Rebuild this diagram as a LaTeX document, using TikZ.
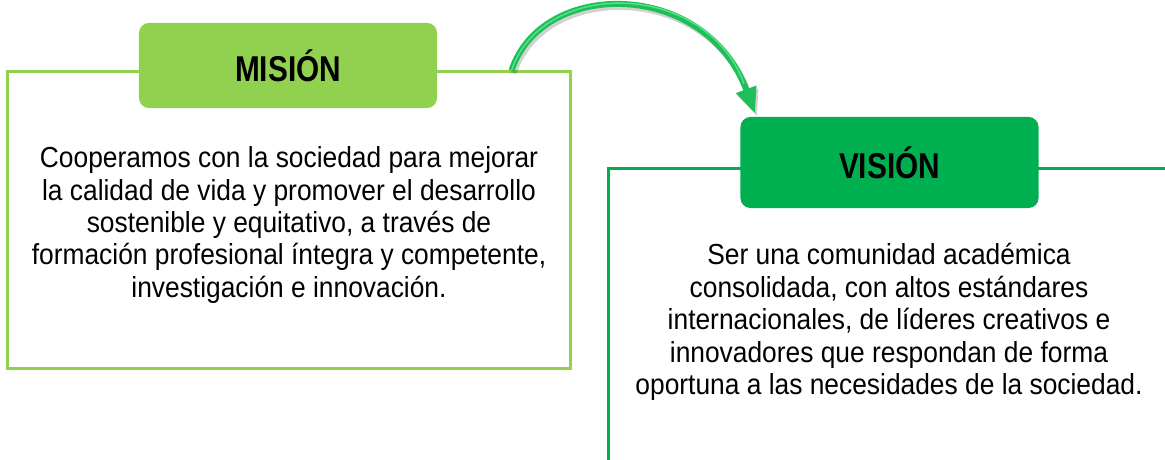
\documentclass[tikz,border=0pt]{standalone}
\usepackage{fontspec}
\setmainfont{Liberation Sans}[FakeStretch=0.91]
\newfontfamily\titlefont{Liberation Sans}[FakeStretch=0.83]
\usetikzlibrary{arrows.meta,positioning}
\definecolor{misiongreen}{HTML}{92D050}
\definecolor{visiongreen}{HTML}{00B050}
\definecolor{arrowgreen}{HTML}{1CBF58}
\definecolor{arrowlight}{HTML}{5BE08A}
\tikzset{
  frameline/.style={draw=#1, line width=0.075cm, inner sep=0pt},
  titlebox/.style={fill=#1, rounded corners=0.25cm, minimum width=7.45cm,
    text=black, font=\titlefont\bfseries\fontsize{25.5}{29}\selectfont},
  bodytext/.style={align=center, inner sep=0pt,
    font=\fontsize{20.6}{23.1}\selectfont},
  flowarrow/.style={-{Triangle[width=0.5cm,length=0.65cm]}, line width=0.15cm},
}
\begin{document}
\begin{tikzpicture}[x=0.025cm, y=-0.025cm]
  \useasboundingbox (0,0) rectangle (1165,460);
  \clip (0,0) rectangle (1165,460);

  % Drawing box MISION
  \node[frameline=misiongreen, minimum width=14.05cm, minimum height=7.4cm] (misionbox) at (289,220) {};
  \node[bodytext] (misiontext) at (289,225) {Cooperamos con la sociedad para mejorar\\
    la calidad de vida y promover el desarrollo\\
    sostenible y equitativo, a través de\\
    formación profesional íntegra y competente,\\
    investigación e innovación.};

  % Drawing box VISION (open to the right and below)
  \node[frameline=visiongreen, minimum width=15cm, minimum height=8cm, anchor=north west] (visionbox) at (607,167) {};
  \node[bodytext] (visiontext) at (889,322) {Ser una comunidad académica\\
    consolidada, con altos estándares\\
    internacionales, de líderes creativos e\\
    innovadores que respondan de forma\\
    oportuna a las necesidades de la sociedad.};

  % Title boxes
  \node[titlebox=misiongreen, minimum height=2.125cm] (misiontitle) at (288,65.5) {MISIÓN};
  \node[titlebox=visiongreen, minimum height=2.275cm] (visiontitle) at (889.5,162.5) {VISIÓN};

  % Drawing arrow MISION -> VISION
  \coordinate (arrowstart) at ([xshift=-1.5cm]misionbox.north east);
  \coordinate (arrowend) at ([xshift=0.375cm, yshift=0.075cm]visiontitle.north west);
  \draw[flowarrow, black, opacity=0.18, transform canvas={xshift=0.05cm, yshift=-0.075cm}]
    (arrowstart) .. controls +(30,-92) and +(-50,-135) .. (arrowend);
  \draw[flowarrow, arrowgreen] (arrowstart) .. controls +(30,-92) and +(-50,-135) .. (arrowend);
  \draw[line width=0.035cm, arrowlight, shorten >=0.8cm] (arrowstart) .. controls +(30,-92) and +(-50,-135) .. (arrowend);
\end{tikzpicture}
\end{document}
